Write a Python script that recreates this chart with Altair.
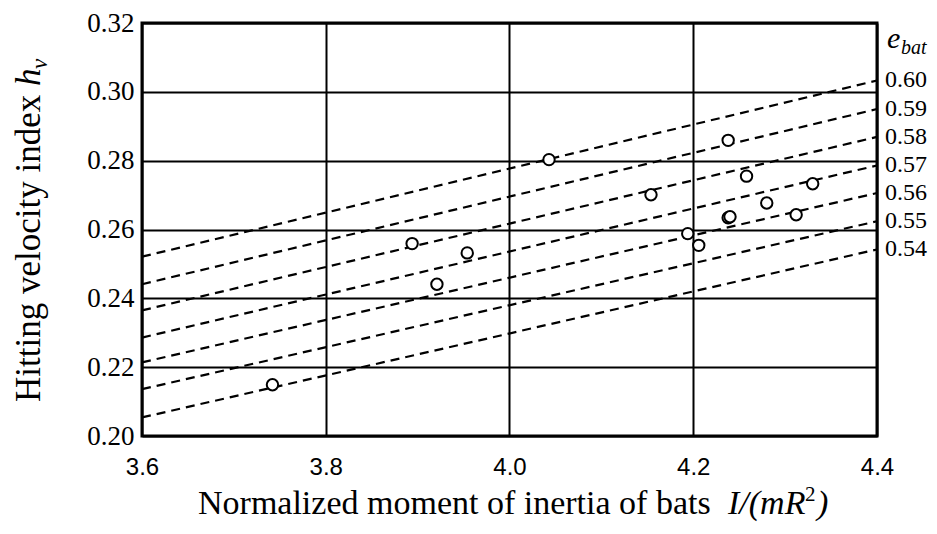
import altair as alt
import pandas as pd

# ---- data ----
e_bat = ["0.60", "0.59", "0.58", "0.57", "0.56", "0.55", "0.54"]
line_x = [3.6, 4.4]
line_start = [0.2521, 0.2441, 0.2365, 0.2286, 0.2214, 0.2136, 0.2054]
line_end = [0.3033, 0.2950, 0.2869, 0.2786, 0.2706, 0.2624, 0.2542]

pt_x = [3.742, 3.894, 3.921, 3.954, 4.043, 4.154, 4.194, 4.206, 4.238, 4.238, 4.240, 4.258, 4.280, 4.312, 4.330]
pt_y = [0.2149, 0.2559, 0.2441, 0.2532, 0.2803, 0.2701, 0.2588, 0.2554, 0.2859, 0.2634, 0.2637, 0.2755, 0.2677, 0.2643, 0.2733]

x_ticks = [3.6, 3.8, 4.0, 4.2, 4.4]
y_ticks = [0.20, 0.22, 0.24, 0.26, 0.28, 0.30, 0.32]

SERIF = "Liberation Serif"
SANS = "Liberation Sans"

rows = []
for e, a, b in zip(e_bat, line_start, line_end):
    rows.append({"e": e, "x": line_x[0], "y": a})
    rows.append({"e": e, "x": line_x[1], "y": b})
lines_df = pd.DataFrame(rows)
pts_df = pd.DataFrame({"x": pt_x, "y": pt_y})
lab_df = pd.DataFrame({"e": e_bat, "x": [line_x[1]] * len(e_bat), "y": line_end})

xs = alt.Scale(domain=[3.6, 4.4], nice=False, zero=False)
ys = alt.Scale(domain=[0.20, 0.32], nice=False, zero=False)

x_axis = alt.Axis(values=x_ticks, format=".1f", grid=True, gridColor="black", gridWidth=2,
                  gridOpacity=1, ticks=False, domain=False, labelFont=SANS, labelFontSize=24,
                  labelColor="black", labelPadding=19, title=None, labelFlush=False)
y_axis = alt.Axis(values=y_ticks, format=".2f", grid=True, gridColor="black", gridWidth=2,
                  gridOpacity=1, ticks=False, domain=False, labelFont=SERIF, labelFontSize=27,
                  labelColor="black", labelPadding=8, title=None, labelFlush=False)

lines = alt.Chart(lines_df).mark_line(color="black", strokeWidth=2.2, strokeDash=[9, 6]).encode(
    x=alt.X("x:Q", scale=xs, axis=x_axis),
    y=alt.Y("y:Q", scale=ys, axis=y_axis),
    detail="e:N",
)

points = alt.Chart(pts_df).mark_point(shape="circle", size=130, filled=False, fill="white",
                                      fillOpacity=1, stroke="black", strokeWidth=2, opacity=1).encode(
    x=alt.X("x:Q", scale=xs),
    y=alt.Y("y:Q", scale=ys),
)

labels = alt.Chart(lab_df).mark_text(align="left", baseline="middle", dx=8, font=SERIF,
                                     fontSize=24, color="black").encode(
    x=alt.X("x:Q", scale=xs),
    y=alt.Y("y:Q", scale=ys),
    text="e:N",
)

one = pd.DataFrame({"a": [0]})


def txt(s, x, y, size, style="normal", angle=0, align="left", font=SERIF):
    return alt.Chart(one).mark_text(text=s, font=font, fontSize=size, fontStyle=style, angle=angle,
                                    align=align, baseline="alphabetic", color="black").encode(
        x=alt.value(x), y=alt.value(y))


# y-axis title (rotated), centred on the plot height
yt1 = txt("Hitting velocity index", -102, 379, 35, angle=270)
yt2 = txt("h", -102, 63, 35, style="italic", angle=270)
yt3 = txt("v", -95, 46, 23, style="italic", angle=270)

# x-axis title
xt1 = txt("Normalized moment of inertia of bats", 56, 491, 34)
xt2 = txt("I/(mR", 586, 491, 34, style="italic")
xt3 = txt("2", 663, 478, 21)
xt4 = txt(")", 675, 491, 34, style="italic")

# legend header e_bat
eb1 = txt("e", 745, 25, 30, style="italic")
eb2 = txt("bat", 759, 31, 20, style="italic")

chart = alt.layer(lines, points, labels, yt1, yt2, yt3, xt1, xt2, xt3, xt4, eb1, eb2).properties(
    width=735, height=413,
    autosize=alt.AutoSizeParams(type="none"),
    padding={"left": 134, "top": 15, "right": 52, "bottom": 86},
    background="white",
).configure_view(stroke="black", strokeWidth=3)

chart.save("out.html", embed_options={"renderer": "svg", "actions": False})
